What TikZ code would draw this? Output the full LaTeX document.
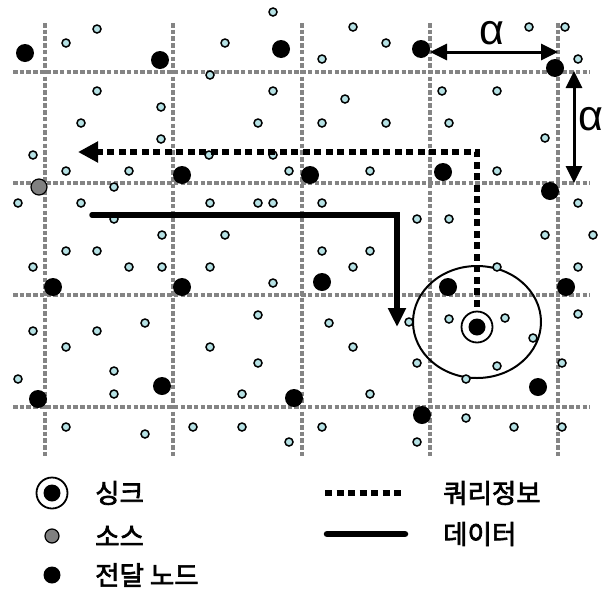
\documentclass[tikz,border=0pt]{standalone}
\usepackage{fontspec}
\usetikzlibrary{arrows.meta,shapes.geometric}
\newfontfamily\krfont{Noto Sans CJK KR}[FakeBold=2.5]
\newfontfamily\alphafont{Liberation Sans}
\definecolor{dotfill}{RGB}{182,226,229}
\definecolor{gridgray}{RGB}{132,132,132}
\definecolor{srcgray}{RGB}{128,128,128}
\tikzset{
  gridline/.style={gridgray,line width=4pt,dash pattern=on 4.5pt off 2.2pt},
  smalldot/.style={circle,draw=black,line width=1.5pt,fill=dotfill,minimum size=8pt,inner sep=0pt},
  fwdnode/.style={circle,fill=black,minimum size=18pt,inner sep=0pt},
  srcnode/.style={circle,draw=black,line width=1.2pt,fill=srcgray,minimum size=16pt,inner sep=0pt},
  sinkring/.style={circle,draw=black,line width=1.8pt,fill=white,minimum size=31pt,inner sep=0pt},
  sinkcore/.style={circle,fill=black,minimum size=17pt,inner sep=0pt},
  zone/.style={ellipse,draw=black,line width=2pt,minimum width=128pt,minimum height=112pt,inner sep=0pt},
  queryline/.style={line width=6pt,dash pattern=on 7pt off 4.5pt},
  dataline/.style={line width=5.5pt,line cap=round},
  alphaarrow/.style={line width=3pt,{Triangle[length=17pt,width=16pt]}-{Triangle[length=17pt,width=16pt]}},
  legtext/.style={anchor=west,inner sep=0pt,font=\krfont\fontsize{26.5}{30}\selectfont},
  alphalabel/.style={inner sep=0pt,font=\alphafont\fontsize{43}{45}\selectfont}
}
\begin{document}
\begin{tikzpicture}[x=1pt,y=-1pt]
\useasboundingbox (0,0) rectangle (608,592);
% grid
\foreach \gy in {72,183,295,407} \draw[gridline] (13,\gy) -- (590,\gy);
\foreach \gx in {45,173,302,430,558} \draw[gridline] (\gx,23) -- (\gx,457);
% sink zone
\node[zone] (zone) at (477,322) {};
% small sensor nodes
\foreach \px/\py [count=\i] in {
97/29,66/43,273/12,353/27,225/43,386/43,322/59,529/27,565/27,578/59,
97/91,161/107,81/123,161/139,33/155,66/171,129/171,210/75,273/91,345/99,
258/123,322/123,386/123,209/155,273/155,289/171,370/171,442/91,497/91,449/123,
545/138,497/171,
114/187,18/203,81/203,114/219,210/203,258/203,273/203,322/203,578/203,417/219,
449/219,162/235,66/251,97/251,33/267,129/267,162/267,225/235,322/251,370/251,
210/267,353/267,273/283,545/235,593/235,497/267,578/267,
145/323,33/331,97/331,66/347,114/371,18/379,114/394,258/315,329/323,210/347,
353/347,258/363,242/394,370/394,578/314,409/322,449/319,505/318,533/338,417/363,
497/366,562/363,466/379,
66/427,145/434,193/427,242/427,322/427,289/442,466/418,514/427,562/427,417/442}
  \node[smalldot] (s\i) at (\px,\py) {};
% forwarding nodes
\foreach \px/\py [count=\i] in {
25/53,160/60,281/49,421/49,555/68,182/175,310/175,443/172,550/191,
53/287,182/287,322/282,448/287,566/287,162/386,38/399,294/398,538/387,422/415}
  \node[fwdnode] (f\i) at (\px,\py) {};
% source and sink
\node[srcnode] (src) at (39,187) {};
\node[sinkring] (sink) at (477,327) {};
\node[sinkcore] (sinkc) at (sink.center) {};
% query and data paths
\coordinate (qend) at (78,152);
\coordinate (dstart) at (92,215);
\coordinate (dend) at (397,327);
\draw[queryline,-{Triangle[length=20pt,width=20pt]}] ([yshift=4pt]sink.north) |- (qend);
\draw[dataline,-{Triangle[length=19pt,width=17pt]}] (dstart) -| (dend);
% alpha spacing arrows
\coordinate (ah1) at (430,52);
\coordinate (ah2) at (558,52);
\coordinate (av1) at (574,71);
\coordinate (av2) at (574,183);
\draw[alphaarrow] (ah1) -- (ah2);
\draw[alphaarrow] (av1) -- (av2);
\node[alphalabel] (alh) at (492,33) {α};
\node[alphalabel] (alv) at (591,119) {α};
% legend
\node[sinkring] (lsink) at (52,493) {};
\node[sinkcore] (lsinkc) at (lsink.center) {};
\node[legtext] (tsink) at (95,493) {싱크};
\node[srcnode,minimum size=14pt] (lsrc) at (52,536) {};
\node[legtext] (tsrc) at (95,536) {소스};
\node[fwdnode,minimum size=17pt] (lfwd) at (52,575) {};
\node[legtext] (tfwd) at (95,575) {전달 노드};
\coordinate (lq1) at (325,493);
\coordinate (lq2) at (404,493);
\draw[queryline] (lq1) -- (lq2);
\node[legtext] (tq) at (443,493) {쿼리정보};
\coordinate (ld1) at (327,534);
\coordinate (ld2) at (405,534);
\draw[dataline,line width=6.5pt] (ld1) -- (ld2);
\node[legtext] (td) at (443,534) {데이터};
\end{tikzpicture}
\end{document}
